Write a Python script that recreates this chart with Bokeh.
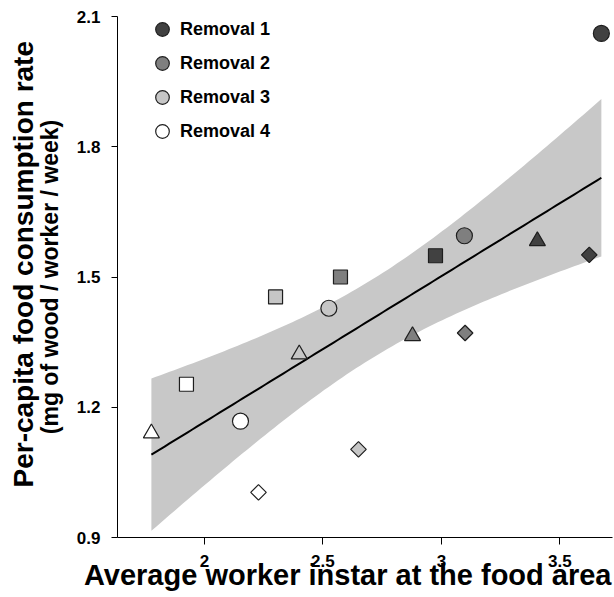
import math
import numpy as np
from bokeh.plotting import figure
from bokeh.models import Range1d, FixedTicker, Legend, LegendItem, Title
from bokeh.embed import file_html
from bokeh.resources import INLINE

# ---- data ----
removal_labels = ["Removal 1", "Removal 2", "Removal 3", "Removal 4"]
removal_colors = ["#414141", "#7f7f7f", "#c6c6c6", "#ffffff"]
shape_names = ["circle", "square", "triangle", "diamond"]

# values per removal, in order circle, square, triangle, diamond
x_r1 = [3.675, 2.975, 3.405, 3.624]
y_r1 = [2.061, 1.549, 1.583, 1.551]
x_r2 = [3.097, 2.574, 2.878, 3.100]
y_r2 = [1.595, 1.500, 1.364, 1.371]
x_r3 = [2.525, 2.300, 2.400, 2.650]
y_r3 = [1.428, 1.454, 1.322, 1.103]
x_r4 = [2.152, 1.924, 1.776, 2.228]
y_r4 = [1.168, 1.253, 1.140, 1.004]

x_ticks = [2, 2.5, 3, 3.5]
x_tick_labels = ["2", "2.5", "3", "3.5"]
y_ticks = [0.9, 1.2, 1.5, 1.8, 2.1]
y_tick_labels = ["0.9", "1.2", "1.5", "1.8", "2.1"]

x_title = "Average worker instar at the food area"
y_title = "Per-capita food consumption rate"
y_subtitle = "(mg of wood / worker / week)"

FONT = "Liberation Sans"

p = figure(width=614, height=597,
           x_range=Range1d(1.633, 3.722), y_range=Range1d(0.9, 2.1),
           output_backend="svg", toolbar_location=None,
           min_border_left=117, min_border_right=2,
           min_border_top=16, min_border_bottom=60)
p.grid.visible = False
p.outline_line_color = None
p.background_fill_color = "white"

for ax, ticks, labs in [(p.xaxis[0], x_ticks, x_tick_labels),
                        (p.yaxis[0], y_ticks, y_tick_labels)]:
    ax.ticker = FixedTicker(ticks=ticks)
    ax.major_label_overrides = {t: l for t, l in zip(ticks, labs)}
    ax.axis_line_color = "black"
    ax.axis_line_width = 1
    ax.major_tick_line_color = "black"
    ax.major_tick_in = 0
    ax.minor_tick_line_color = None
    ax.major_label_text_font = FONT
    ax.major_label_text_font_style = "bold"
    ax.major_label_text_font_size = "17px"
    ax.major_label_text_color = "black"

p.xaxis.major_tick_out = 7
p.xaxis.major_label_standoff = 10
p.yaxis.major_tick_out = 6
p.yaxis.major_label_standoff = 11

# subtitle of the y axis as the axis label
yax = p.yaxis[0]
yax.axis_label = y_subtitle
yax.axis_label_text_font = FONT
yax.axis_label_text_font_style = "bold"
yax.axis_label_text_font_size = "23px"
yax.axis_label_text_color = "black"
yax.axis_label_standoff = 11

# main y title (outer) and x title as panel titles
p.add_layout(Title(text=y_title, align="left", offset=50, vertical_align="bottom",
                   standoff=-11, text_font=FONT, text_font_style="bold",
                   text_font_size="28px", text_color="black"), "left")
p.add_layout(Title(text=x_title, align="right", offset=1, vertical_align="top",
                   standoff=-21, text_font=FONT, text_font_style="bold",
                   text_font_size="29px", text_color="black"), "below")

# ---- regression line and 95% confidence band computed from the data ----
all_x = np.array(x_r1 + x_r2 + x_r3 + x_r4)
all_y = np.array(y_r1 + y_r2 + y_r3 + y_r4)
n = len(all_x)
slope, intercept = np.polyfit(all_x, all_y, 1)
resid = all_y - (slope * all_x + intercept)
s = math.sqrt(np.sum(resid ** 2) / (n - 2))
sxx = np.sum((all_x - all_x.mean()) ** 2)
t_crit = 2.1448  # t(0.975, df=14)
xs = np.linspace(all_x.min(), all_x.max(), 100)
fit = slope * xs + intercept
half = t_crit * s * np.sqrt(1.0 / n + (xs - all_x.mean()) ** 2 / sxx)

p.varea(x=xs, y1=fit - half, y2=fit + half, fill_color="#c8c8c8", fill_alpha=1.0)
p.line(x=xs, y=fit, line_color="black", line_width=2)

# ---- points ----
marker_spec = {
    "circle": dict(marker="circle", size=16, angle=0.0),
    "square": dict(marker="square", size=14, angle=0.0),
    "triangle": dict(marker="triangle", size=16, angle=0.0),
    "diamond": dict(marker="square", size=11, angle=math.pi / 4),
}

legend_items = []
groups = [(x_r1, y_r1), (x_r2, y_r2), (x_r3, y_r3), (x_r4, y_r4)]
for (gx, gy), lab, col in zip(groups, removal_labels, removal_colors):
    circle_r = None
    for i, shp in enumerate(shape_names):
        spec = marker_spec[shp]
        r = p.scatter(x=[gx[i]], y=[gy[i]], marker=spec["marker"], size=spec["size"],
                      angle=spec["angle"], fill_color=col, line_color="#1e1e1e",
                      line_width=1.2)
        if shp == "circle":
            circle_r = r
    legend_items.append(LegendItem(label=lab, renderers=[circle_r]))

legend = Legend(items=legend_items, location=(27, 389))
legend.glyph_width = 36
legend.glyph_height = 34
legend.spacing = 0
legend.padding = 0
legend.margin = 0
legend.label_standoff = 0
legend.border_line_color = None
legend.background_fill_alpha = 0
legend.label_text_font = FONT
legend.label_text_font_style = "bold"
legend.label_text_font_size = "18px"
legend.label_text_color = "black"
p.add_layout(legend)

open("out.html", "w").write(file_html(p, INLINE))
